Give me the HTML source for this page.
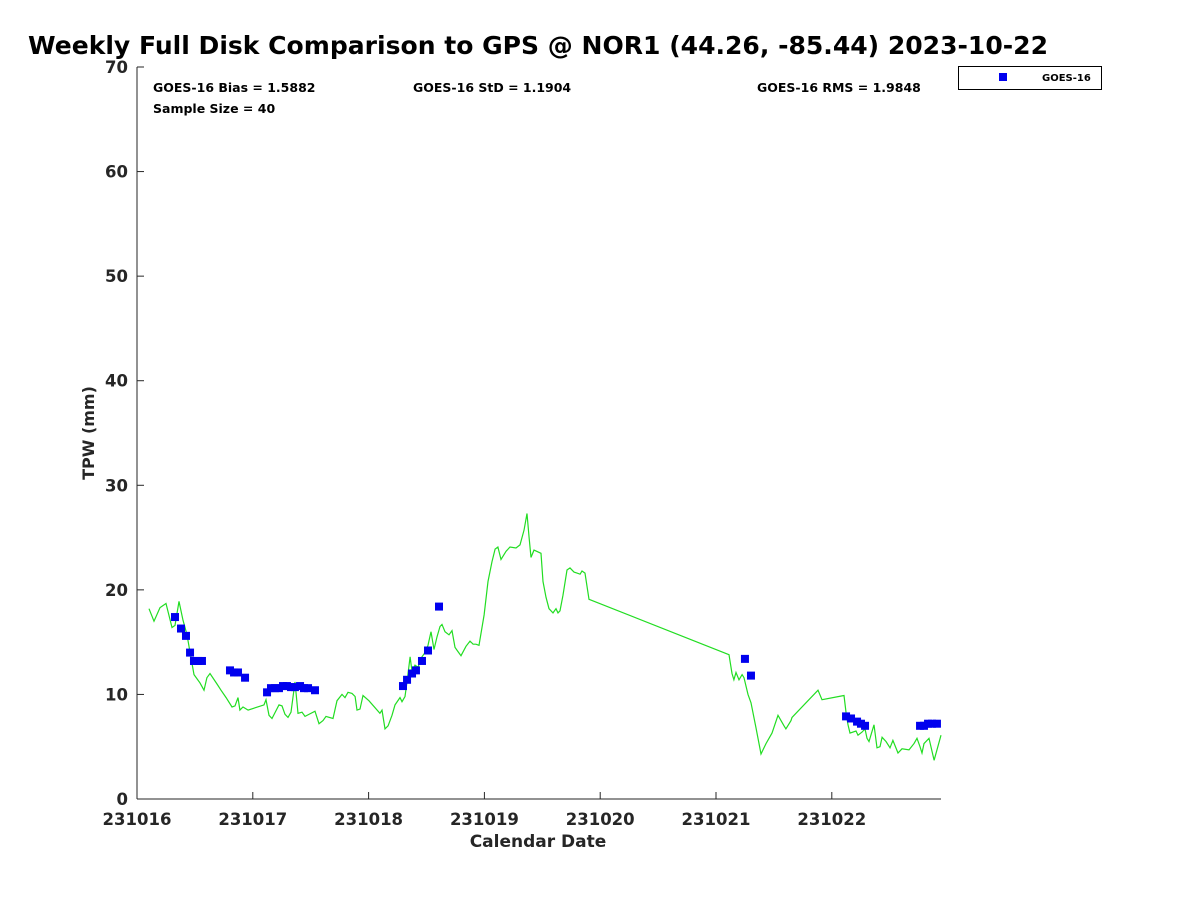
<!DOCTYPE html>
<html><head><meta charset="utf-8"><style>
body{margin:0;background:#fff;font-family:"DejaVu Sans",sans-serif}
svg text{font-family:"DejaVu Sans",sans-serif;font-weight:bold}
</style></head><body>
<svg id="chart" width="1200" height="900" xmlns="http://www.w3.org/2000/svg">
<rect width="1200" height="900" fill="#fff"/>
<text x="28" y="54" font-size="25" fill="#000" textLength="1020" lengthAdjust="spacingAndGlyphs">Weekly Full Disk Comparison to GPS @ NOR1 (44.26, -85.44) 2023-10-22</text>
<g id="axes"></g>
<g id="series"></g>
<text x="153" y="92" font-size="12.5" fill="#000">GOES-16 Bias = 1.5882</text>
<text x="153" y="113" font-size="12.5" fill="#000">Sample Size = 40</text>
<text x="413" y="92" font-size="12.5" fill="#000">GOES-16 StD = 1.1904</text>
<text x="757" y="92" font-size="12.5" fill="#000">GOES-16 RMS = 1.9848</text>
<g>
<rect x="958.5" y="66.5" width="143" height="23" fill="#fff" stroke="#000" stroke-width="1"/>
<rect x="999" y="73" width="8" height="8" fill="#0000ee"/>
<text x="1042" y="81" font-size="10" fill="#000">GOES-16</text>
</g>
<text x="538" y="847" font-size="17" fill="#262626" text-anchor="middle">Calendar Date</text>
<text transform="translate(94,433) rotate(-90)" font-size="16" fill="#262626" text-anchor="middle">TPW (mm)</text>
</svg>
<script>
const xTickLabels=["231016","231017","231018","231019","231020","231021","231022"];
const yTickValues=[0,10,20,30,40,50,60,70];
const gpsDays=[0.104,0.147,0.199,0.250,0.302,0.328,0.363,0.397,0.432,0.466,0.492,0.544,0.579,0.604,0.630,0.691,0.725,0.769,0.820,0.846,0.872,0.889,0.915,0.959,1.097,1.114,1.140,1.166,1.226,1.252,1.278,1.304,1.330,1.364,1.390,1.425,1.451,1.537,1.572,1.606,1.632,1.693,1.727,1.770,1.796,1.822,1.857,1.883,1.900,1.926,1.952,2.003,2.098,2.116,2.142,2.168,2.202,2.228,2.271,2.288,2.314,2.332,2.358,2.375,2.401,2.427,2.461,2.487,2.513,2.539,2.565,2.591,2.617,2.634,2.660,2.694,2.720,2.746,2.772,2.798,2.841,2.876,2.902,2.927,2.953,2.997,3.031,3.066,3.092,3.117,3.143,3.187,3.221,3.273,3.307,3.342,3.368,3.385,3.402,3.428,3.489,3.506,3.532,3.558,3.592,3.618,3.636,3.653,3.679,3.713,3.739,3.774,3.800,3.826,3.843,3.869,3.903,5.112,5.138,5.155,5.173,5.199,5.225,5.242,5.276,5.302,5.345,5.389,5.432,5.484,5.535,5.587,5.604,5.648,5.656,5.881,5.915,6.105,6.123,6.140,6.157,6.209,6.226,6.261,6.287,6.304,6.321,6.364,6.390,6.416,6.434,6.468,6.503,6.528,6.572,6.606,6.667,6.710,6.736,6.762,6.779,6.796,6.839,6.883,6.943];
const gpsTpw=[18.2,17.0,18.3,18.7,16.4,16.6,18.9,17.1,15.7,13.5,11.9,11.1,10.4,11.6,12.0,11.0,10.4,9.7,8.8,8.9,9.7,8.5,8.8,8.5,9.0,9.5,8.0,7.7,9.0,8.9,8.1,7.8,8.3,11.2,8.2,8.3,7.9,8.4,7.2,7.5,7.9,7.7,9.4,10.0,9.7,10.2,10.1,9.8,8.5,8.6,9.9,9.4,8.2,8.5,6.7,7.0,8.0,9.0,9.7,9.3,9.8,11.2,13.6,12.2,12.8,12.6,13.6,14.0,14.7,16.0,14.3,15.5,16.5,16.7,16.0,15.7,16.1,14.5,14.1,13.7,14.6,15.1,14.8,14.8,14.7,17.6,20.8,22.7,23.9,24.1,22.9,23.7,24.1,24.0,24.3,25.7,27.3,25.1,23.1,23.8,23.5,20.8,19.3,18.2,17.8,18.2,17.8,18.0,19.5,21.9,22.1,21.7,21.6,21.5,21.8,21.6,19.1,13.8,12.0,11.4,12.1,11.4,11.9,11.6,10.0,9.2,6.8,4.3,5.3,6.3,8.0,7.0,6.7,7.5,7.8,10.4,9.5,9.9,8.3,7.1,6.3,6.5,6.1,6.4,6.7,5.8,5.5,7.1,4.9,5.0,5.9,5.5,4.9,5.6,4.4,4.8,4.7,5.3,5.8,5.0,4.4,5.3,5.8,3.7,6.1];
const goesDays=[0.328,0.380,0.423,0.458,0.492,0.527,0.561,0.803,0.838,0.872,0.933,1.123,1.157,1.192,1.226,1.261,1.295,1.330,1.364,1.408,1.442,1.477,1.537,2.297,2.332,2.375,2.409,2.461,2.513,2.608,5.250,5.302,6.123,6.166,6.218,6.252,6.287,6.762,6.796,6.831,6.865,6.908];
const goesTpw=[17.4,16.3,15.6,14.0,13.2,13.2,13.2,12.3,12.1,12.1,11.6,10.2,10.6,10.6,10.6,10.8,10.8,10.7,10.7,10.8,10.6,10.6,10.4,10.8,11.4,12.0,12.3,13.2,14.2,18.4,13.4,11.8,7.9,7.7,7.4,7.2,7.0,7.0,7.0,7.2,7.2,7.2];

const NS="http://www.w3.org/2000/svg";
const X0=137,X1=941,XMAX=6.943,Y0=799,Y1=67,YMAX=70;
const xs=d=>X0+(X1-X0)*d/XMAX;
const ys=v=>Y0-(Y0-Y1)*v/YMAX;
function mk(tag,attrs,parent){const e=document.createElementNS(NS,tag);for(const k in attrs)e.setAttribute(k,attrs[k]);parent.appendChild(e);return e;}
const axes=document.getElementById('axes'),series=document.getElementById('series');
let el=mk('line',{x1:X0,y1:Y0,x2:X1,y2:Y0,stroke:'#262626','stroke-width':1},axes);


el=mk('line',{x1:X0,y1:Y0,x2:X0,y2:Y1,stroke:'#262626','stroke-width':1},axes);


xTickLabels.forEach((lab,i)=>{
  const x=xs(i);
  let t=mk('line',{x1:x,y1:Y0,x2:x,y2:Y0-7,stroke:'#262626'},axes);
  
  
  let tx=mk('text',{x:x,y:Y0+26,'font-size':16.5,fill:'#262626','text-anchor':'middle'},axes);
  tx.textContent=lab;
  
  
});
yTickValues.forEach(v=>{
  const y=ys(v);
  let t=mk('line',{x1:X0,y1:y,x2:X0+7,y2:y,stroke:'#262626'},axes);
  
  
  let tx=mk('text',{x:X0-9,y:y+6,'font-size':16.5,fill:'#262626','text-anchor':'end'},axes);
  tx.textContent=String(v);
  
  
});
const pts=gpsDays.map((d,i)=>xs(d).toFixed(1)+','+ys(gpsTpw[i]).toFixed(1)).join(' ');
const line=mk('polyline',{points:pts,fill:'none',stroke:'#22dd22','stroke-width':1.2},series);


goesDays.forEach((d,i)=>{
  const r=mk('rect',{x:xs(d)-4,y:ys(goesTpw[i])-4,width:8,height:8,fill:'#0000ee'},series);
  
  
});
</script>
</body></html>
